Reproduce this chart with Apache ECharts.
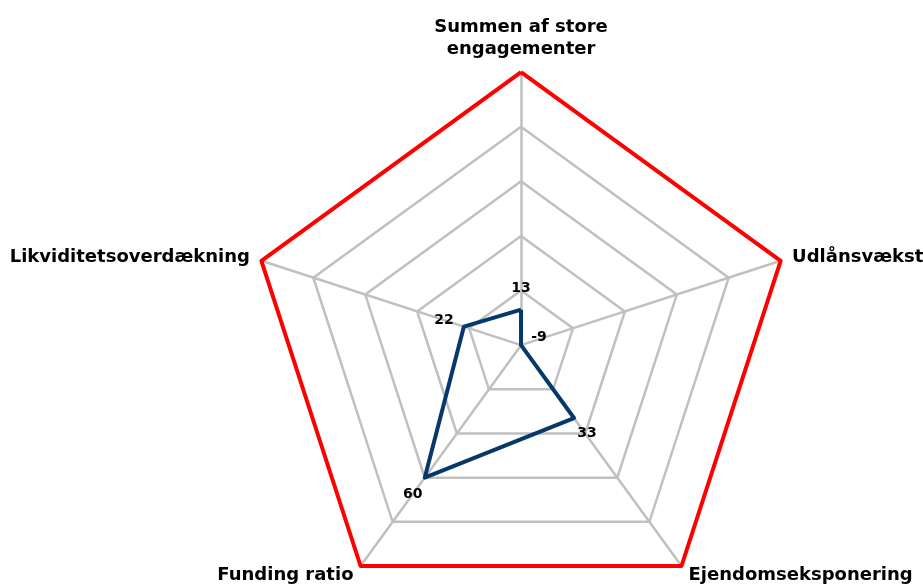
<!DOCTYPE html>
<html>
<head>
<meta charset="utf-8">
<script src="https://cdn.jsdelivr.net/npm/echarts@6/dist/echarts.min.js"></script>
<style>
    html, body { margin: 0; padding: 0; background: #fff; }
    #chart { width: 923px; height: 584px; }
</style>
</head>
<body>
<div id="chart"></div>
<script>
// indicators go counter-clockwise from the top (ECharts radar order)
const indicatorNames = ['Summen af store\nengagementer', 'Likviditetsoverdækning', 'Funding ratio', 'Ejendomseksponering', 'Udlånsvækst'];
const diamondValues = [13, 22, 60, 33, -9];
const limitValues = [100, 100, 100, 100, 100];
const axisMax = 100;

// where each value label sits next to its point
const labelOffsets = [[0, -21], [-20, -6], [-12, 17], [13, 15], [18, -8]];

const chart = echarts.init(document.getElementById('chart'));

// negative values are drawn at the centre, like the original
const plotValues = diamondValues.map(v => Math.max(v, 0));

let labelSeries = [];
diamondValues.forEach((v, idx) => {
    labelSeries.push({
        type: 'radar',
        silent: true,
        z: 5,
        symbol: 'circle',
        symbolSize: 1,
        itemStyle: { color: 'rgba(0,0,0,0)', borderWidth: 0 },
        lineStyle: { width: 0, opacity: 0 },
        label: {
            show: true,
            position: 'inside',
            offset: labelOffsets[idx],
            fontFamily: 'DejaVu Sans',
            fontWeight: 'bold',
            fontSize: 14,
            color: '#000',
            formatter: function(p) {
                return p.dimensionIndex === idx ? String(diamondValues[idx]) : '';
            }
        },
        data: [{ value: plotValues }]
    });
});

let options = {
    animation: false,
    radar: {
        center: ['56.45%', '59.1%'],
        radius: 273,
        startAngle: 90,
        shape: 'polygon',
        splitNumber: 5,
        indicator: indicatorNames.map(name => ({ name: name, min: 0, max: axisMax })),
        axisName: {
            color: '#000',
            fontFamily: 'DejaVu Sans',
            fontWeight: 'bold',
            fontSize: 18,
            lineHeight: 22
        },
        nameGap: 12,
        axisLine: { lineStyle: { color: '#c0c0c0', width: 2.5 } },
        splitLine: { lineStyle: { color: '#c0c0c0', width: 2.5 } },
        splitArea: { show: false },
        axisTick: { show: false },
        axisLabel: { show: false }
    },
    series: [
        {
            type: 'radar',
            name: 'Grænse',
            silent: true,
            z: 2,
            symbol: 'none',
            lineStyle: { color: '#ff0000', width: 4 },
            data: [{ value: limitValues }]
        },
        {
            type: 'radar',
            name: 'Tilsynsdiamant',
            silent: true,
            z: 3,
            symbol: 'none',
            lineStyle: { color: '#06386b', width: 4 },
            data: [{ value: plotValues }]
        }
    ].concat(labelSeries)
};

chart.setOption(options);
</script>
</body>
</html>
